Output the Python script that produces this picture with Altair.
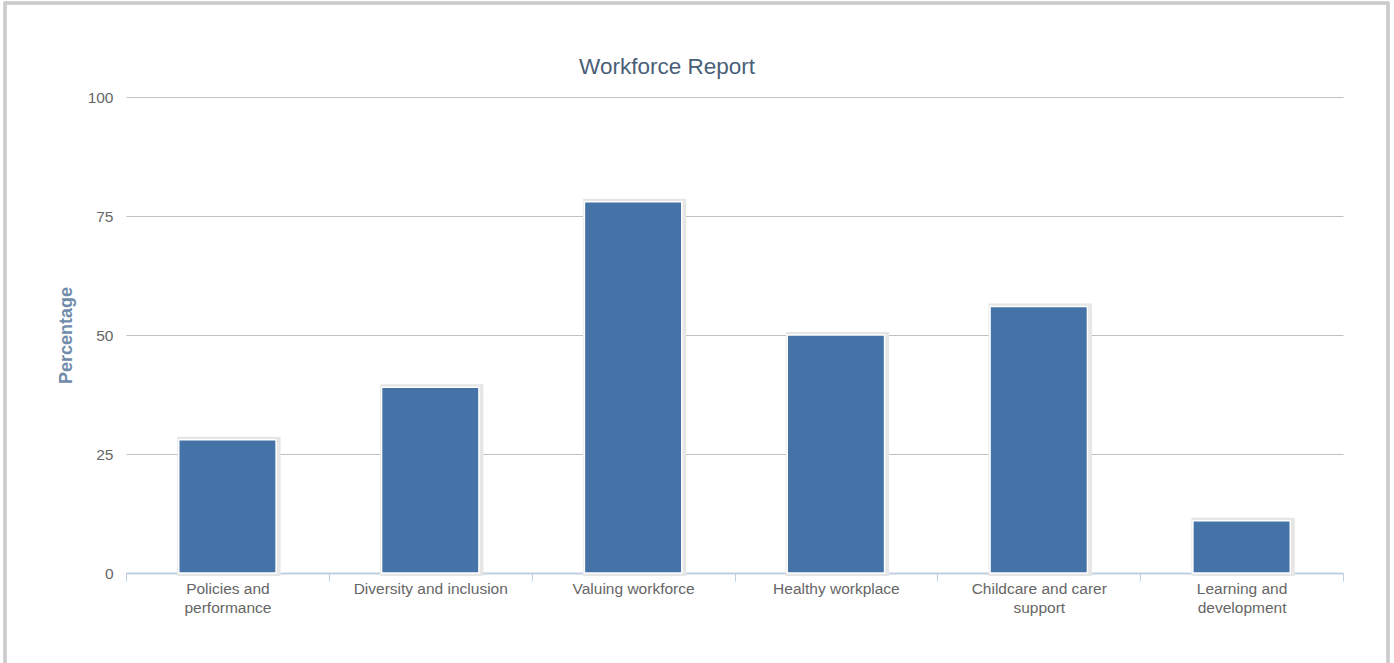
import altair as alt
import pandas as pd

categories = ["Policies and performance", "Diversity and inclusion", "Valuing workforce",
              "Healthy workplace", "Childcare and carer support", "Learning and development"]
values = [28, 39, 78, 50, 56, 11]
label_lines = {
    "Policies and performance": ["Policies and", "performance"],
    "Diversity and inclusion": ["Diversity and inclusion"],
    "Valuing workforce": ["Valuing workforce"],
    "Healthy workplace": ["Healthy workplace"],
    "Childcare and carer support": ["Childcare and carer", "support"],
    "Learning and development": ["Learning and", "development"],
}
y_ticks = [0, 25, 50, 75, 100]
title_text = "Workforce Report"

df = pd.DataFrame({"category": categories, "value": values})

label_expr = ""
for k, v in label_lines.items():
    arr = "[" + ",".join("'" + s + "'" for s in v) + "]"
    label_expr += f"datum.label == '{k}' ? {arr} : "
label_expr += "datum.label"

FONT = "Liberation Sans"

x_enc = alt.X("category:N", sort=categories, title=None,
              scale=alt.Scale(paddingInner=0, paddingOuter=0),
              axis=alt.Axis(labelAngle=0, labelExpr=label_expr, labelColor="#666666",
                            labelFontSize=15.5, labelFont=FONT, labelPadding=0,
                            labelLineHeight=19, domainColor="#C0D0E0", domainWidth=2,
                            tickColor="#C0D0E0", tickSize=8, tickBand="extent",
                            bandPosition=0, grid=False, labelBound=False))
y_enc = alt.Y("value:Q", title="Percentage",
              scale=alt.Scale(domain=[0, 100], nice=False),
              axis=alt.Axis(values=y_ticks, domain=False, ticks=False, labelColor="#666666",
                            labelFontSize=15.5, labelFont=FONT, labelPadding=13,
                            gridColor="#C0C0C0", gridWidth=1,
                            titleColor="#6F8BAA", titleFontSize=18, titleFont=FONT,
                            titleFontWeight="bold", titlePadding=12))

base = alt.Chart(df)

shadow = base.mark_bar(width=alt.RelativeBandSize(0.48), color="#4572A7",
                       stroke="#E6E6E6", strokeWidth=6, xOffset=1.5).encode(
    x=x_enc, y=y_enc)
bars = base.mark_bar(width=alt.RelativeBandSize(0.48), color="#4572A7",
                     stroke="#FFFFFF", strokeWidth=1.5).encode(x=x_enc, y=y_enc)

title = alt.Chart(pd.DataFrame({"t": [title_text]})).mark_text(
    font=FONT, fontSize=22.5, color="#4A5F77", align="center", baseline="alphabetic"
).encode(text="t:N", x=alt.value(541), y=alt.value(-23))

border = base.mark_rect(fill=None, stroke="#CCCCCC", strokeWidth=2.5).encode(
    x=alt.value(-121), x2=alt.value(1262), y=alt.value(-94), y2=alt.value(620))

chart = alt.layer(shadow, bars, title, border).properties(
    width=1217, height=476,
    padding={"left": 126, "top": 97, "right": 51, "bottom": 90},
    autosize=alt.AutoSizeParams(type="none"),
    background="white",
).configure_view(stroke=None)

chart.save("out.html", embed_options={"renderer": "svg", "actions": False})
